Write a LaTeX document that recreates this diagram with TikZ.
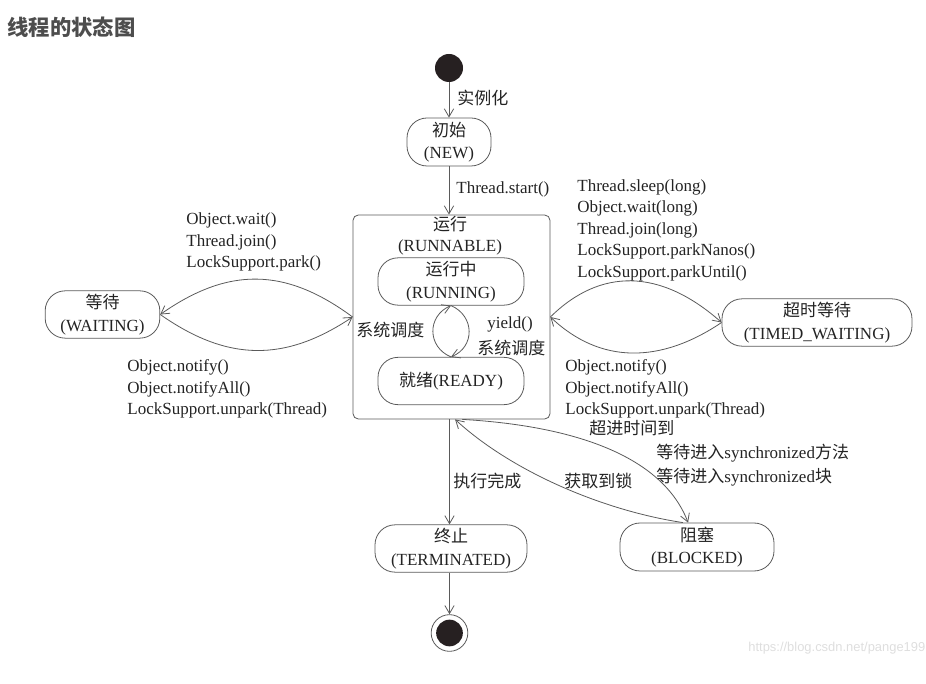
\documentclass[tikz,border=0pt]{standalone}
\usepackage{fontspec}
\setmainfont{Liberation Serif}
\newfontfamily\cjk{Noto Sans CJK SC}
\newfontfamily\wmfont{Liberation Sans}
\usetikzlibrary{arrows.meta}
\definecolor{linegray}{RGB}{90,90,90}
\definecolor{textgray}{RGB}{35,35,35}
\definecolor{dotfill}{RGB}{38,32,33}
\definecolor{titlegray}{RGB}{77,77,77}
\newcommand{\lblfont}{\fontsize{12.75}{16.1}\selectfont}
\newcommand{\statefont}{\fontsize{12.75}{17}\selectfont}
\tikzset{every picture/.style={line width=0.6pt}}
\tikzset{
  >={Straight Barb[length=6pt,width=7pt]},
  state/.style={draw=linegray, rounded corners=15pt, align=center, inner sep=0pt,
    minimum height=35.5pt, text=textgray, font=\statefont},
  superstate/.style={draw=linegray, rounded corners=4pt, minimum width=147.75pt,
    minimum height=153pt, inner sep=0pt},
  startdot/.style={circle, fill=dotfill, minimum size=21pt, inner sep=0pt},
  enddot/.style={circle, draw=linegray, minimum size=27.5pt, inner sep=0pt,
    path picture={\fill[dotfill] (path picture bounding box.center) circle (10pt);}},
  lbl/.style={anchor=west, align=left, inner sep=0pt, text=textgray, font=\lblfont},
  conn/.style={draw=linegray, ->},
}

\begin{document}
\begin{tikzpicture}[x=0.75pt,y=0.75pt,yscale=-1,xscale=1]
\useasboundingbox (0,0) rectangle (926,684);

% Title
\node[anchor=west, inner sep=0pt, text=titlegray, font=\fontsize{16}{18}\selectfont] (title) at (7,27) {\cjk\bfseries 线程的状态图};

%Shape: Start and end
\node[startdot] (start) at (449,68) {};
\node[enddot] (end) at (449.5,633) {};

%Shape: States
\node[state, minimum width=63pt, minimum height=36pt] (new) at (449,142) {{\cjk 初始}\\(NEW)};
\node[superstate] (runnable) at (451.5,317) {};
\node[lbl, anchor=center, align=center, font=\fontsize{12.75}{15.75}\selectfont] (runnabletxt) at (450,235.5) {{\cjk 运行}\\(RUNNABLE)};
\node[state, minimum width=109.5pt] (running) at (451,281.5) {{\cjk 运行中}\\(RUNNING)};
\node[state, minimum width=109.5pt] (ready) at (451,381) {{\cjk 就绪}(READY)};
\node[state, minimum width=86pt] (waiting) at (102.5,314.5) {{\cjk 等待}\\(WAITING)};
\node[state, minimum width=142.5pt] (timed) at (817,322.5) {{\cjk 超时等待}\\(TIMED\_WAITING)};
\node[state, minimum width=114pt] (terminated) at (451,548.5) {{\cjk 终止}\\(TERMINATED)};
\node[state, minimum width=115.5pt, minimum height=36pt] (blocked) at (697,547) {{\cjk 阻塞}\\(BLOCKED)};

%Straight Lines
\draw[conn] (start) -- (new);
\draw[conn] (new) -- (new |- runnable.north);
\draw[conn] (end |- runnable.south) -- (end |- terminated.north);
\draw[conn] (end |- terminated.south) -- (end);

%Curve Lines: running / ready
\draw[conn] (ready.north) .. controls (427,347) and (427,316) .. (running.south);
\draw[conn] (running.south) .. controls (475,316) and (475,347) .. (ready.north);

%Curve Lines: waiting
\draw[conn] (runnable.west) .. controls (285,267) and (228,267) .. (waiting.east);
\draw[conn] (waiting.east) .. controls (228,362) and (285,362) .. (runnable.west);

%Curve Lines: timed waiting
\draw[conn] (runnable.east) .. controls (600,268) and (660,268) .. (timed.west);
\draw[conn] (timed.west) .. controls (660,364) and (600,364) .. (runnable.east);

%Curve Lines: blocked
\draw[conn] (runnable.-84) .. controls (560,425) and (660,450) .. (blocked.110);
\draw[conn] (blocked.120) .. controls (600,510) and (510,470) .. (runnable.-88);

% Text Node
\node[lbl] (instlbl) at (457,98) {\cjk 实例化};
% Text Node
\node[lbl] (startlbl) at (456,189) {Thread.start()};
% Text Node
\node[lbl] (waitlbl) at (186,242) {Object.wait()\\Thread.join()\\LockSupport.park()};
% Text Node
\node[lbl] (notifylbl) at (127,389) {Object.notify()\\Object.notifyAll()\\LockSupport.unpark(Thread)};
% Text Node
\node[lbl] (sleeplbl) at (577,230) {Thread.sleep(long)\\Object.wait(long)\\Thread.join(long)\\LockSupport.parkNanos()\\LockSupport.parkUntil()};
% Text Node
\node[lbl] (tnotifylbl) at (565,389) {Object.notify()\\Object.notifyAll()\\LockSupport.unpark(Thread)};
% Text Node
\node[lbl] (timeoutlbl) at (589,428) {\cjk 超进时间到};
% Text Node
\node[lbl, font=\fontsize{12.75}{18}\selectfont] (synclbl) at (656,465) {{\cjk 等待进入}synchronized{\cjk 方法}\\{\cjk 等待进入}synchronized{\cjk 块}};
% Text Node
\node[lbl] (locklbl) at (564,481) {\cjk 获取到锁};
% Text Node
\node[lbl] (donelbl) at (453,481) {\cjk 执行完成};
% Text Node
\node[lbl] (schedlbl) at (356,330) {\cjk 系统调度};
% Text Node
\node[lbl] (yieldlbl) at (487,324) {yield()};
% Text Node
\node[lbl] (sched2lbl) at (477,348) {\cjk 系统调度};
% Text Node
\node[anchor=west, inner sep=0pt, text=black!13, font=\wmfont\fontsize{9.7}{11}\selectfont] (wmark) at (748,648) {https://blog.csdn.net/pange199};

\end{tikzpicture}
\end{document}
